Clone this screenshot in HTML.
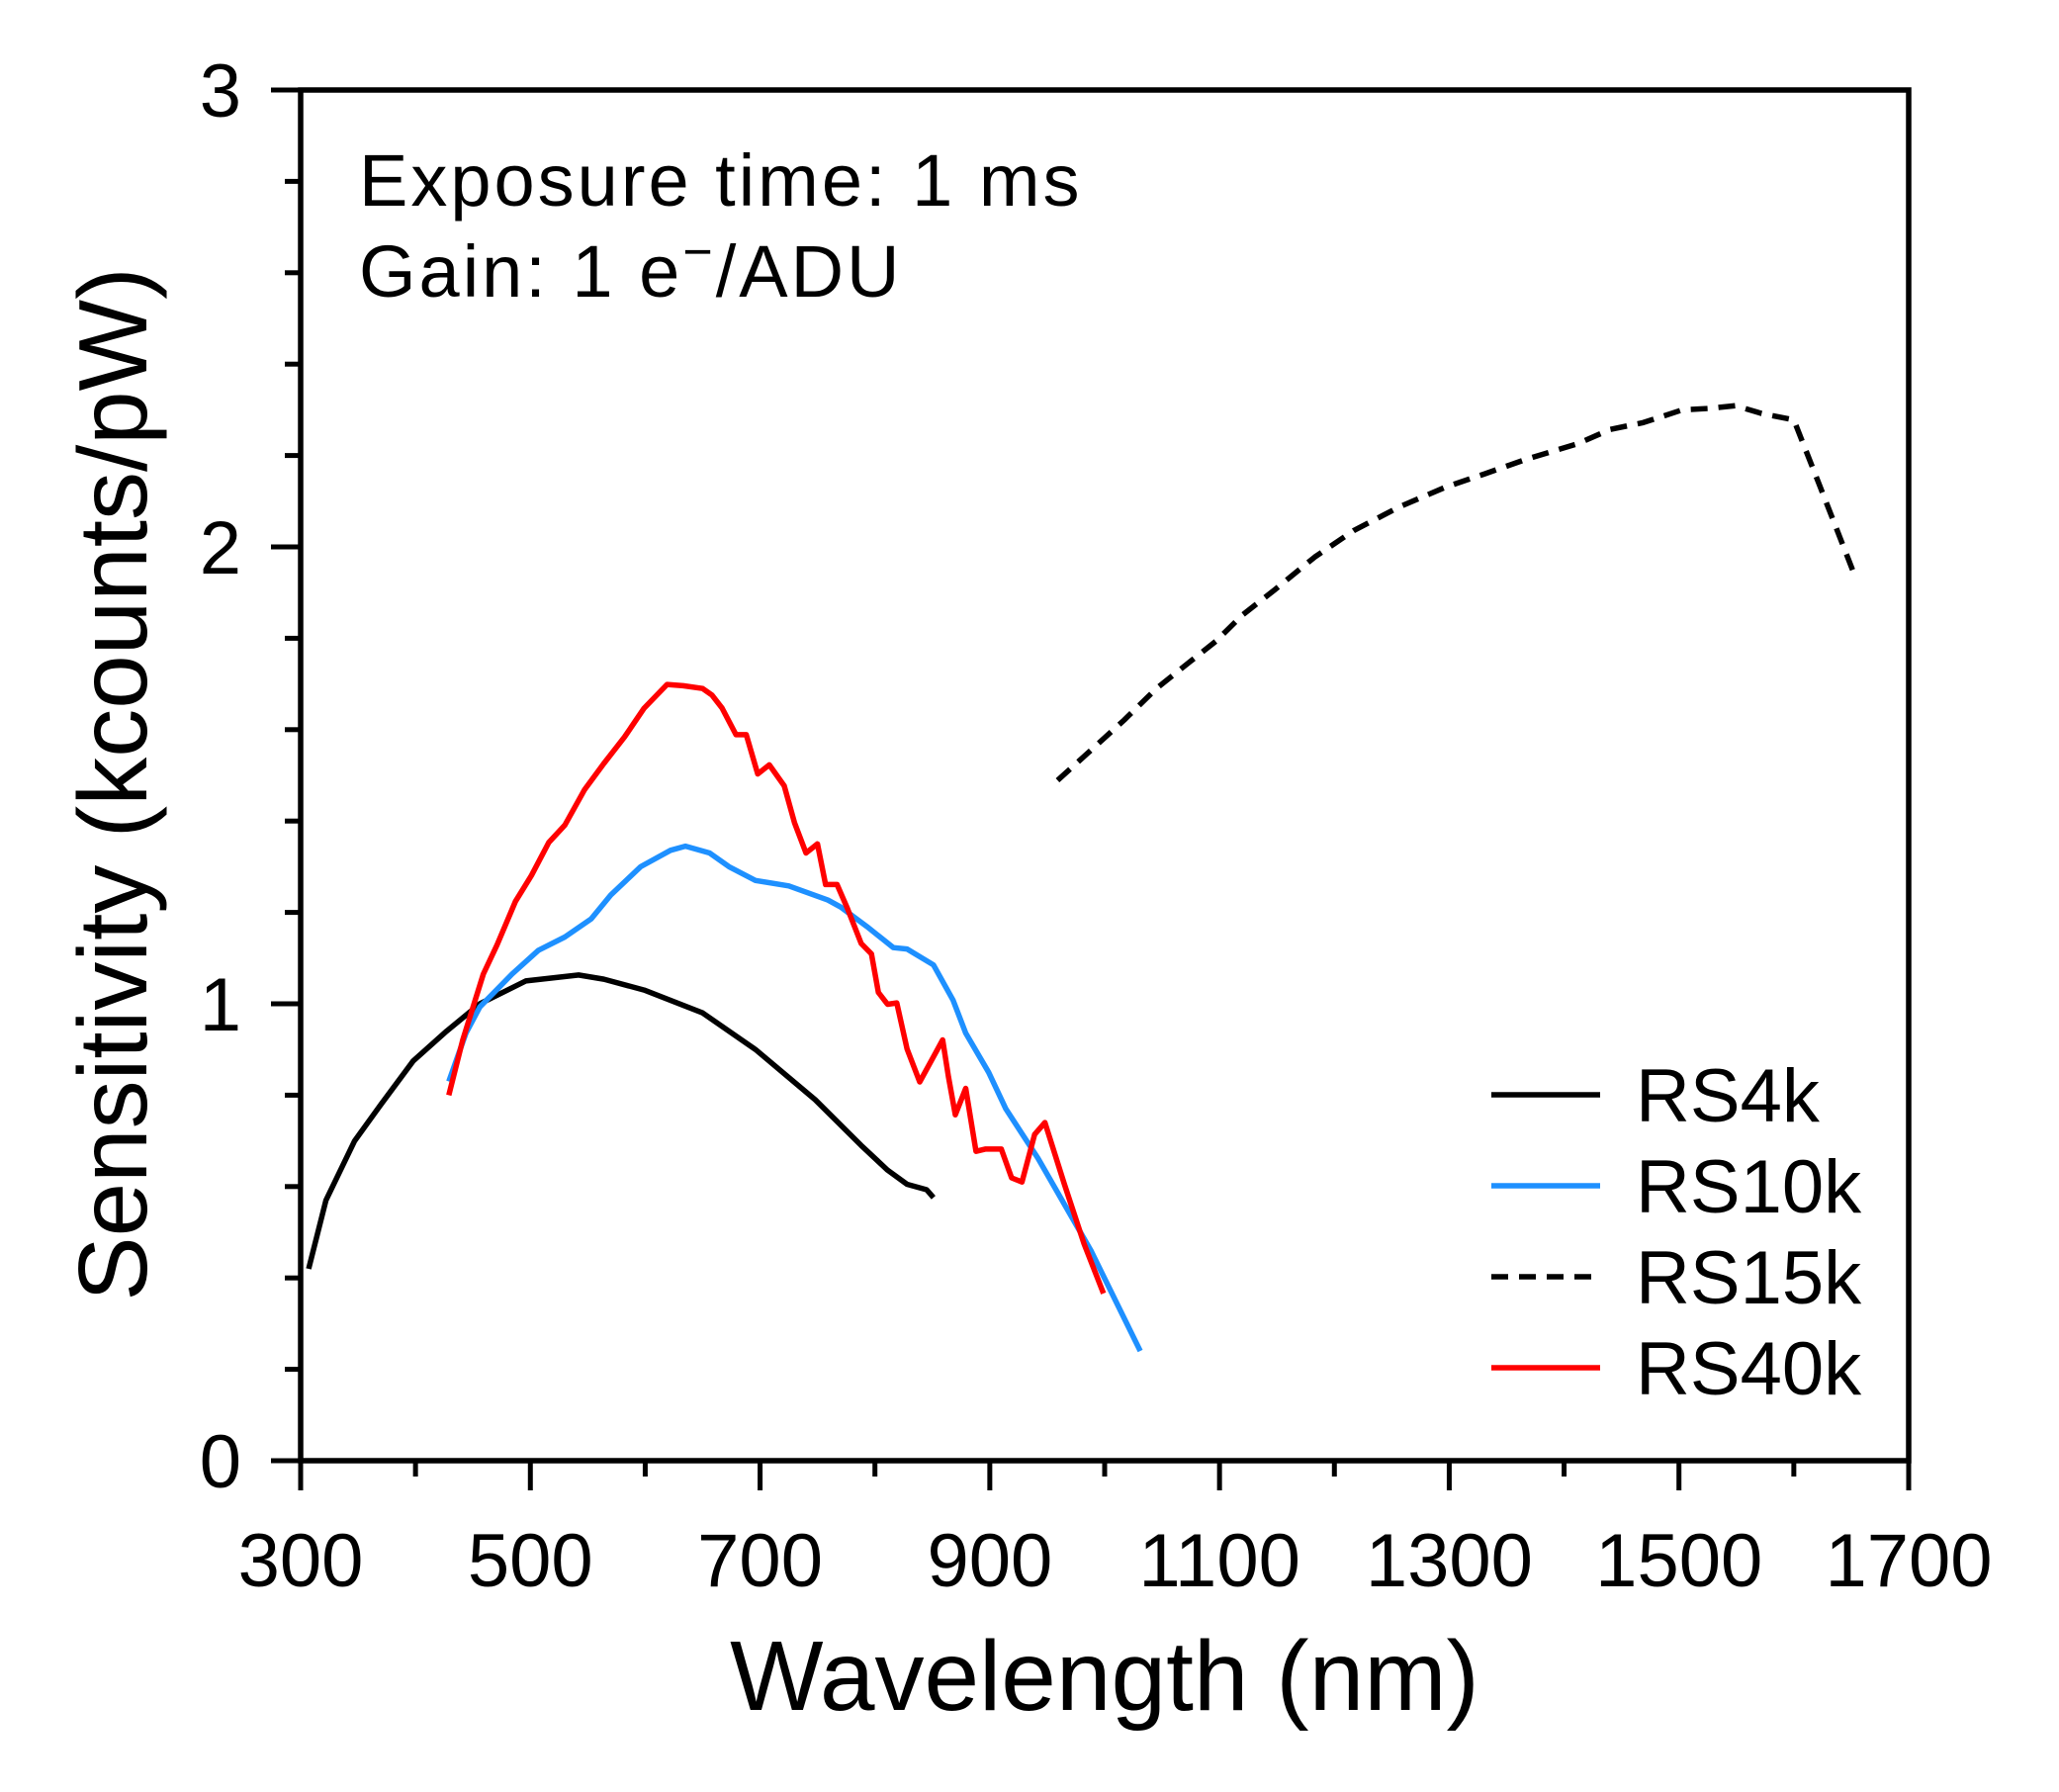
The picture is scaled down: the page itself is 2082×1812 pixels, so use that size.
<!DOCTYPE html>
<html><head><meta charset="utf-8"><style>
html,body{margin:0;padding:0;background:#fff;}
svg{display:block;font-family:"Liberation Sans",sans-serif;}
</style></head><body>
<svg id="chart" width="2082" height="1812" viewBox="0 0 2082 1812" xmlns="http://www.w3.org/2000/svg">
<g id="plot"></g>
</svg>
<script>
const rs4kX=[307,322,347,370,398,427,456,496,542,564,599,650,696,748,788,811,828,845,851];
const rs4kY=[0.42,0.57,0.70,0.78,0.875,0.94,1.0,1.05,1.063,1.054,1.03,0.98,0.90,0.79,0.69,0.636,0.605,0.593,0.576];
const rs10kX=[429,444,456,484,507,530,553,570,596,622,635,656,673,696,725,759,770,793,816,828,851,868,879,899,914,942,988,1031];
const rs10kY=[0.83,0.936,0.993,1.065,1.117,1.146,1.186,1.238,1.30,1.336,1.345,1.33,1.30,1.27,1.258,1.227,1.212,1.169,1.123,1.12,1.085,1.008,0.936,0.85,0.77,0.662,0.46,0.24];
const rs15kX=[959,988,1017,1045,1074,1097,1120,1148,1183,1217,1257,1297,1331,1366,1412,1440,1469,1503,1526,1549,1572,1600,1623,1652];
const rs15kY=[1.489,1.555,1.621,1.69,1.748,1.794,1.851,1.906,1.978,2.036,2.088,2.131,2.16,2.191,2.226,2.257,2.272,2.30,2.303,2.309,2.292,2.278,2.131,1.944];
const rs40kX=[429,441,459,471,487,501,516,530,547,564,582,599,619,633,650,658,667,679,688,698,708,721,730,740,750,757,767,776,788,797,803,811,819,828,839,851,859,864,870,879,888,896,910,919,928,939,948,965,982,999];
const rs40kY=[0.80,0.92,1.065,1.129,1.224,1.281,1.353,1.391,1.468,1.526,1.584,1.647,1.699,1.696,1.69,1.676,1.647,1.589,1.589,1.503,1.523,1.477,1.396,1.33,1.35,1.261,1.261,1.209,1.132,1.109,1.025,0.999,1.002,0.901,0.829,0.884,0.921,0.841,0.757,0.815,0.677,0.682,0.682,0.619,0.61,0.714,0.74,0.605,0.475,0.366];
const xTicks=[300,500,700,900,1100,1300,1500,1700];
const yTicks=[0,1,2,3];

const X0=304,X1=1930,Y0=1477,Y1=91;
const sx=v=>X0+(v-300)/1400*(X1-X0);
const sy=v=>Y0-v/3*(Y0-Y1);
const NS="http://www.w3.org/2000/svg";
const g=document.getElementById('plot');
function mk(tag,attrs){const e=document.createElementNS(NS,tag);for(const k in attrs)e.setAttribute(k,attrs[k]);g.appendChild(e);return e;}

function series(xs,ys,color,dash,name){
  const d=xs.map((x,i)=>(i?'L':'M')+sx(x).toFixed(1)+','+sy(ys[i]).toFixed(1)).join(' ');
  const p=mk('path',{d:d,fill:'none',stroke:color,'stroke-width':5.5,'stroke-linejoin':'round'});
  if(dash)p.setAttribute('stroke-dasharray',dash);
  
  
}
series(rs4kX,rs4kY,'#000',null,'rs4k-line');
series(rs10kX,rs10kY,'#1e90ff',null,'rs10k-line');
series(rs15kX,rs15kY,'#000','17,11','rs15k-line');
series(rs40kX,rs40kY,'#ff0000',null,'rs40k-line');

const fr=mk('rect',{x:X0,y:Y1,width:X1-X0,height:Y0-Y1,fill:'none',stroke:'#000','stroke-width':5.5});



for(let v=300;v<=1700;v+=100){
  const major=xTicks.includes(v);
  const t=mk('line',{x1:sx(v),x2:sx(v),y1:Y0,y2:Y0+(major?30:16),stroke:'#000','stroke-width':5});
  
  
}
xTicks.forEach(v=>{
  const t=mk('text',{x:sx(v),y:1604,'font-size':76,'text-anchor':'middle',fill:'#000'});
  t.textContent=v;
  
  
});
for(let i=0;i<=15;i++){
  const v=i*0.2;
  const major=(i%5===0);
  const t=mk('line',{x1:X0-(major?30:16),x2:X0,y1:sy(v),y2:sy(v),stroke:'#000','stroke-width':5});
  
  
}
yTicks.forEach(v=>{
  const t=mk('text',{x:244,y:sy(v)+27,'font-size':76,'text-anchor':'end',fill:'#000'});
  t.textContent=v;
  
  
});
const xt=mk('text',{x:1117,y:1729,'font-size':100,'text-anchor':'middle',fill:'#000'});
xt.textContent='Wavelength (nm)';


const yt=mk('text',{x:0,y:0,'font-size':98,'text-anchor':'middle',fill:'#000',transform:'translate(148,793) rotate(-90)'});
yt.textContent='Sensitivity (kcounts/pW)';


const a1=mk('text',{x:363,y:208,'font-size':74,fill:'#000','letter-spacing':3});
a1.textContent='Exposure time: 1 ms';


const a2=mk('text',{x:363,y:300,'font-size':74,fill:'#000','letter-spacing':3});
a2.innerHTML='Gain: 1 e<tspan dy="-28" font-size="52">−</tspan><tspan dy="28">/ADU</tspan>';


const legNames=['RS4k','RS10k','RS15k','RS40k'];
const legColors=['#000','#1e90ff','#000','#ff0000'];
const legY=[1107,1199,1291,1383];
legNames.forEach((n,i)=>{
  const l=mk('line',{x1:1508,x2:1618,y1:legY[i],y2:legY[i],stroke:legColors[i],'stroke-width':5.5});
  if(i===2)l.setAttribute('stroke-dasharray','17,11');
  
  
  const t=mk('text',{x:1654,y:legY[i]+27,'font-size':76,fill:'#000'});
  t.textContent=n;
  
  
});
</script>
</body></html>
